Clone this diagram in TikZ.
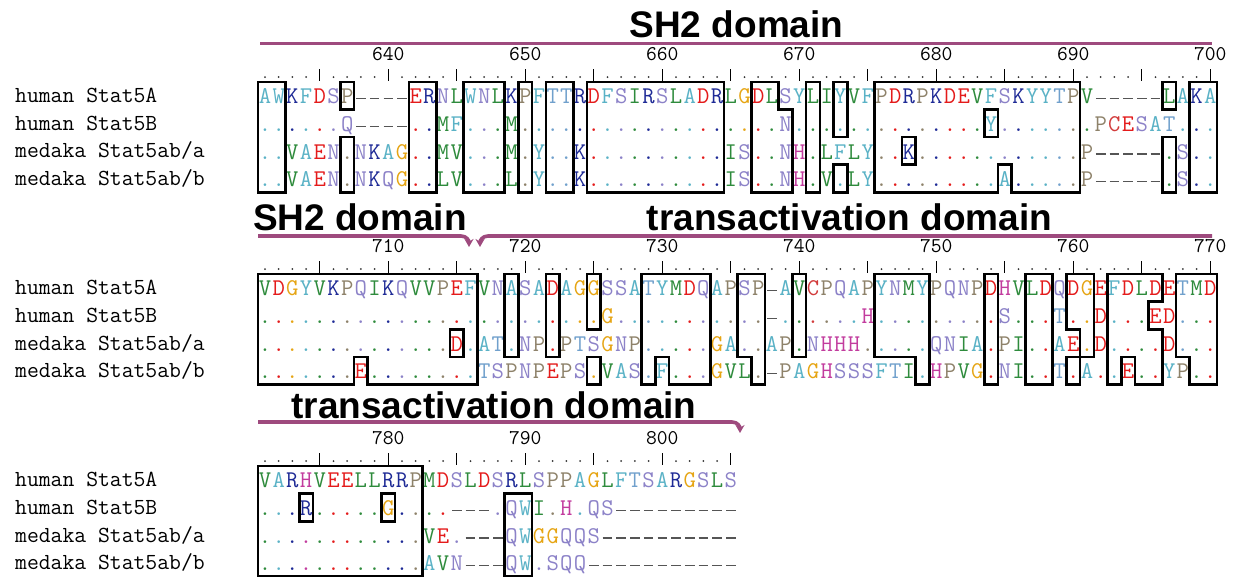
\documentclass[tikz,border=0pt]{standalone}
\usepackage{fontspec}
\newfontfamily\domfont{Liberation Sans}
\usetikzlibrary{arrows.meta}

% residue colours
\definecolor{resA}{HTML}{5AB2C6}
\colorlet{resF}{resA}
\colorlet{resW}{resA}
\colorlet{resY}{resA}
\definecolor{resC}{HTML}{D23C3C}
\definecolor{resD}{HTML}{E41B1B}
\colorlet{resE}{resD}
\definecolor{resG}{HTML}{E6A514}
\definecolor{resH}{HTML}{C23C9E}
\definecolor{resI}{HTML}{2E8B3C}
\colorlet{resL}{resI}
\colorlet{resM}{resI}
\colorlet{resV}{resI}
\definecolor{resK}{HTML}{1E2A96}
\colorlet{resR}{resK}
\definecolor{resN}{HTML}{8C82C8}
\colorlet{resQ}{resN}
\colorlet{resS}{resN}
\definecolor{resT}{HTML}{70A0CC}
\definecolor{resP}{HTML}{8E826A}
\definecolor{gapgrey}{HTML}{555555}
\definecolor{domcolor}{HTML}{9E4A7E}

\tikzset{
  resnode/.style={font=\ttfamily\fontsize{24}{24}\selectfont, inner sep=0pt, anchor=base},
  seqname/.style={font=\ttfamily\fontsize{23}{23}\selectfont, inner sep=0pt, anchor=base west},
  rulernum/.style={font=\ttfamily\fontsize{21}{21}\selectfont, inner sep=0pt, anchor=base, text depth=0pt},
  rulertick/.style={line width=1.1pt},
  rulerdot/.style={fill=black!80},
  consbox/.style={line width=2.6pt, line join=miter},
  gapline/.style={draw=gapgrey, line width=1.1pt},
  domline/.style={draw=domcolor, line width=3.6pt},
  domtitle/.style={font=\domfont\bfseries\fontsize{37}{37}\selectfont, inner sep=0pt, anchor=base, text depth=0pt},
}

% one row of residues, read one character at a time
\newcount\rescol
\newcount\residx
\def\rowno{1}
\newcommand\seqrow[3]{%
  \def\rowno{#1}\rescol=#2\relax\residx=0\relax
  \parseres#3\relax}
\def\parseres#1{%
  \ifx#1\relax\else
    \putres{#1}%
    \advance\rescol by 1\relax
    \advance\residx by 1\relax
    \expandafter\parseres
  \fi}
\newcommand\putres[1]{%
  \edef\resx{\the\residx.5}%
  \ifx#1.%
    \edef\dotcol{\csname refc\the\rescol\endcsname}%
    \node[resnode, text=\dotcol] (r\rowno c\the\rescol) at (\resx,\rowno-0.21) {.};%
  \else
    \ifx#1-%
      \draw[gapline] (\the\residx.15,\rowno-0.39) -- (\the\residx.85,\rowno-0.39);%
      \ifnum\rowno=1 \expandafter\xdef\csname refc\the\rescol\endcsname{gapgrey}\fi
    \else
      \node[resnode, text=res#1] (r\rowno c\the\rescol) at (\resx,\rowno-0.21) {#1};%
      \ifnum\rowno=1 \expandafter\xdef\csname refc\the\rescol\endcsname{res#1}\fi
    \fi
  \fi}

\begin{document}
\begin{tikzpicture}[x=1pt, y=-1pt]
  \useasboundingbox (0,0) rectangle (1236,577);
  \fill[white] (0,0) rectangle (1236,577);

  % domain titles and bars
  \node[domtitle] (sh2title) at (736.5,38) {SH2 domain};
  \coordinate (sh2a-start) at (260,43.5);
  \coordinate (sh2a-end) at (1212,43.5);
  \draw[domline] (sh2a-start) -- (sh2a-end);

  \node[domtitle] (sh2titleb) at (360,231) {SH2 domain};
  \node[domtitle] (tatitleb) at (849.5,231) {transactivation domain};
  \coordinate (sh2b-start) at (258,236);
  \coordinate (sh2b-bend) at (461,236);
  \coordinate (sh2b-end) at (469,247);
  \draw[domline, -{Stealth[length=8pt,width=9pt]}] (sh2b-start) -- (sh2b-bend)
    .. controls +(6,0) and +(0,-6) .. (sh2b-end);
  \coordinate (tab-start) at (1212,236);
  \coordinate (tab-bend) at (488,236);
  \coordinate (tab-end) at (480,247);
  \draw[domline, -{Stealth[length=8pt,width=9pt]}] (tab-start) -- (tab-bend)
    .. controls +(-6,0) and +(0,-6) .. (tab-end);

  \node[domtitle] (tatitlec) at (494,418) {transactivation domain};
  \coordinate (tac-start) at (258,422);
  \coordinate (tac-bend) at (732,422);
  \coordinate (tac-end) at (740,433);
  \draw[domline, -{Stealth[length=8pt,width=9pt]}] (tac-start) -- (tac-bend)
    .. controls +(6,0) and +(0,-6) .. (tac-end);

  % sequence names
  \foreach \top/\blk in {82/a,274/b,466/c}{
    \node[seqname] (name1\blk) at (15,\top+13.8+7) {human Stat5A};
    \node[seqname] (name2\blk) at (15,\top+41.4+7) {human Stat5B};
    \node[seqname] (name3\blk) at (15,\top+69+7) {medaka Stat5ab/a};
    \node[seqname] (name4\blk) at (15,\top+96.6+7) {medaka Stat5ab/b};
  }

  % block 1: columns 631-700
  \begin{scope}[shift={(258.15,82)}, x=13.7pt, y=-27.6pt]
    \foreach \k in {631,...,700}{
      \pgfmathtruncatemacro\rmod{mod(\k,5)}
      \pgfmathtruncatemacro\tmod{mod(\k,10)}
      \ifnum\rmod=0 \draw[rulertick] (\k-631+0.5,-0.47) -- (\k-631+0.5,-0.04);
      \else \fill[rulerdot] (\k-631+0.5,-0.18) circle (1pt); \fi
      \ifnum\tmod=0 \node[rulernum] (num\k) at (\k-631+0.5,-0.78) {\k}; \fi
    }
    \seqrow{1}{631}{AWKFDSP----ERNLWNLKPFTTRDFSIRSLADRLGDLSYLIYVFPDRPKDEVFSKYYTPV-----LAKA}
    \seqrow{2}{631}{......Q----..MF...M...................N..............Y.......PCESAT...}
    \seqrow{3}{631}{..VAEN.NKAG..MV...M.Y..K..........IS..NH.LFLY..K............P-----.S..}
    \seqrow{4}{631}{..VAEN.NKQG..LV...L.Y..K..........IS..NH.V.LY.........A.....P-----.S..}
    \draw[consbox] (0,0) rectangle (2,4);
    \draw[consbox] (6,0) rectangle (7,1) (6,2) rectangle (7,4);
    \draw[consbox] (11,0) rectangle (13,4);
    \draw[consbox] (15,0) rectangle (18,4);
    \draw[consbox] (19,0) rectangle (20,4);
    \draw[consbox] (21,0) rectangle (23,4);
    \draw[consbox] (24,0) rectangle (34,4);
    \draw[consbox] (36,0) -- (38,0) -- (38,1) -- (39,1) -- (39,4) -- (36,4) -- cycle;
    \draw[consbox] (40,0) rectangle (41,4);
    \draw[consbox] (42,0) rectangle (43,2) (42,3) rectangle (43,4);
    \draw[consbox] (45,0) -- (60,0) -- (60,4) -- (55,4) -- (55,3) -- (54,3) -- (54,4) -- (45,4) -- cycle;
    \draw[consbox] (53,1) rectangle (54,2) (47,2) rectangle (48,3);
    \draw[consbox] (66,0) rectangle (67,1) (66,2) rectangle (67,4);
    \draw[consbox] (68,0) rectangle (70,4);
  \end{scope}

  % block 2: columns 701-770
  \begin{scope}[shift={(258.15,274)}, x=13.7pt, y=-27.6pt]
    \foreach \k in {701,...,770}{
      \pgfmathtruncatemacro\rmod{mod(\k,5)}
      \pgfmathtruncatemacro\tmod{mod(\k,10)}
      \ifnum\rmod=0 \draw[rulertick] (\k-701+0.5,-0.47) -- (\k-701+0.5,-0.04);
      \else \fill[rulerdot] (\k-701+0.5,-0.18) circle (1pt); \fi
      \ifnum\tmod=0 \node[rulernum] (num\k) at (\k-701+0.5,-0.78) {\k}; \fi
    }
    \seqrow{1}{701}{VDGYVKPQIKQVVPEFVNASADAGGSSATYMDQAPSP-AVCPQAPYNMYPQNPDHVLDQDGEFDLDETMD}
    \seqrow{2}{701}{.........................G...........-......H.........S...T..D...ED...}
    \seqrow{3}{701}{..............D.AT.NP.PTSGNP.....GA..AP.NHHH.....QNIA.PI..AE.D....D...}
    \seqrow{4}{701}{.......E........TSPNPEPS.VAS.F...GVL.-PAGHSSSFTI.HPVG.NI..T.A..E..YP..}
    \draw[consbox] (0,0) -- (16,0) -- (16,4) -- (8,4) -- (8,3) -- (7,3) -- (7,4) -- (0,4) -- cycle;
    \draw[consbox] (14,2) rectangle (15,3);
    \draw[consbox] (18,0) rectangle (19,3);
    \draw[consbox] (21,0) rectangle (22,3);
    \draw[consbox] (24,0) rectangle (25,2) (24,3) rectangle (25,4);
    \draw[consbox] (28,0) -- (33,0) -- (33,4) -- (30,4) -- (30,3) -- (29,3) -- (29,4) -- (28,4) -- cycle;
    \draw[consbox] (35,0) -- (37,0) -- (37,4) -- (36,4) -- (36,3) -- (35,3) -- cycle;
    \draw[consbox] (39,0) rectangle (40,3);
    \draw[consbox] (45,0) -- (49,0) -- (49,4) -- (48,4) -- (48,3) -- (45,3) -- cycle;
    \draw[consbox] (53,0) rectangle (54,4);
    \draw[consbox] (56,0) rectangle (58,4);
    \draw[consbox] (59,0) -- (61,0) -- (61,3) -- (60,3) -- (60,2) -- (59,2) -- cycle (59,3) rectangle (60,4);
    \draw[consbox] (62,0) -- (66,0) -- (66,1) -- (65,1) -- (65,2) -- (66,2) -- (66,4) -- (64,4) -- (64,3) -- (63,3) -- (63,4) -- (62,4) -- cycle;
    \draw[consbox] (67,0) -- (70,0) -- (70,4) -- (68,4) -- (68,3) -- (67,3) -- cycle;
  \end{scope}

  % block 3: columns 771-805
  \begin{scope}[shift={(258.15,466)}, x=13.7pt, y=-27.6pt]
    \foreach \k in {771,...,805}{
      \pgfmathtruncatemacro\rmod{mod(\k,5)}
      \pgfmathtruncatemacro\tmod{mod(\k,10)}
      \ifnum\rmod=0 \draw[rulertick] (\k-771+0.5,-0.47) -- (\k-771+0.5,-0.04);
      \else \fill[rulerdot] (\k-771+0.5,-0.18) circle (1pt); \fi
      \ifnum\tmod=0 \node[rulernum] (num\k) at (\k-771+0.5,-0.78) {\k}; \fi
    }
    \seqrow{1}{771}{VARHVEELLRRPMDSLDSRLSPPAGLFTSARGSLS}
    \seqrow{2}{771}{...R.....G....---.QWI.H.QS---------}
    \seqrow{3}{771}{............VE.---QWGGQQS----------}
    \seqrow{4}{771}{............AVN---QW.SQQ-----------}
    \draw[consbox] (0,0) rectangle (12,4);
    \draw[consbox] (3,1) rectangle (4,2) (9,1) rectangle (10,2);
    \draw[consbox] (18,1) rectangle (20,4);
  \end{scope}
\end{tikzpicture}
\end{document}
